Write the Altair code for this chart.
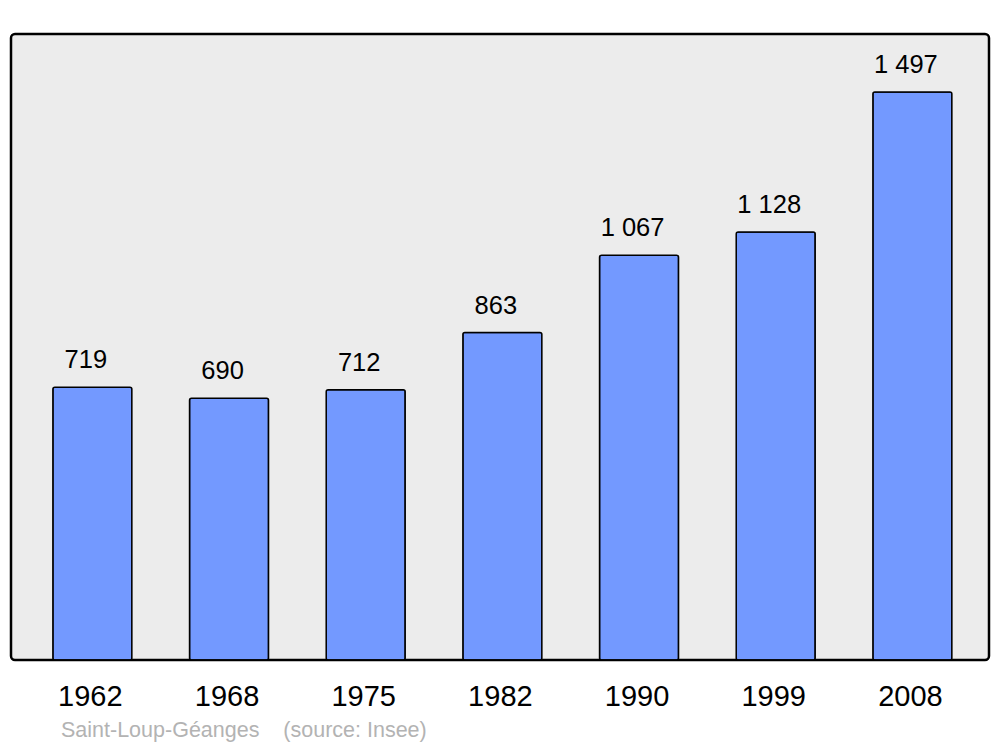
import altair as alt
import pandas as pd

years = ["1962", "1968", "1975", "1982", "1990", "1999", "2008"]
population = [719, 690, 712, 863, 1067, 1128, 1497]
labels = ["719", "690", "712", "863", "1 067", "1 128", "1 497"]
footer = "Saint-Loup-Géanges\u00a0\u00a0\u00a0\u00a0(source: Insee)"

df = pd.DataFrame({"year": years, "pop": population, "label": labels})

W, H = 978, 626

x = alt.X("year:N", sort=years, title=None,
          scale=alt.Scale(paddingInner=0.422, paddingOuter=0.289, align=0.53),
          axis=alt.Axis(labelAngle=0, ticks=False, domain=False, labelFontSize=29,
                        labelFont="Liberation Sans", labelColor="black",
                        labelBaseline="alphabetic", labelPadding=45, labelOffset=-2))
y = alt.Y("pop:Q", title=None, scale=alt.Scale(domain=[0, 1650], nice=False),
          axis=None)

bars = alt.Chart(df).mark_bar(color="#7399ff", stroke="black", strokeWidth=1.5,
                              cornerRadius=2).encode(x=x, y=y)
text = alt.Chart(df).mark_text(baseline="alphabetic", dy=-19, dx=-6.5, fontSize=25.5,
                               font="Liberation Sans", color="black").encode(
    x=x, y=y, text="label:N")
foot = alt.Chart(pd.DataFrame({"t": [footer]})).mark_text(
    align="left", baseline="alphabetic", fontSize=21.5, font="Liberation Sans",
    color="#b3b3b3").encode(x=alt.value(50), y=alt.value(703), text="t:N")

chart = alt.layer(bars, text, foot).properties(
    width=W, height=H,
    padding={"left": 3, "top": 26, "right": 3, "bottom": 86},
    autosize=alt.AutoSizeParams(type="none"),
).configure_view(fill="#ececec", stroke="black", strokeWidth=2.5, cornerRadius=4)

chart.save("out.html", embed_options={"renderer": "svg", "actions": False})
